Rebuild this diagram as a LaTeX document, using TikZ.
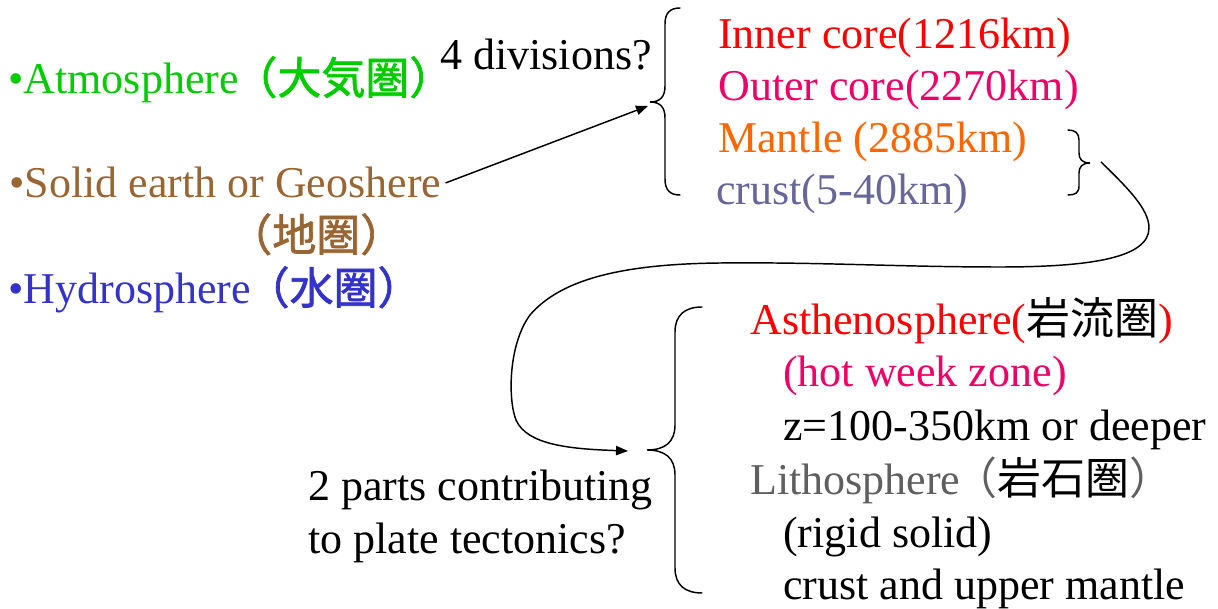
\documentclass[tikz,border=0pt]{standalone}
\usepackage{fontspec}
\setmainfont{Liberation Serif}
\newfontfamily\cjk{Noto Sans CJK JP}
\newfontfamily\cjkb{Noto Sans CJK JP}[FakeBold=1.6]
\usetikzlibrary{arrows.meta}
\definecolor{atmo}{HTML}{00CC00}
\definecolor{geo}{HTML}{996633}
\definecolor{hydro}{HTML}{3333CC}
\definecolor{innerc}{HTML}{FF0000}
\definecolor{outerc}{HTML}{F00066}
\definecolor{mantlec}{HTML}{FF6600}
\definecolor{crustc}{HTML}{666699}
\definecolor{lithoc}{HTML}{5F5F5F}
\tikzset{
  label/.style={inner sep=0pt, anchor=base west, font=\fontsize{33}{40}\selectfont},
  brace/.style={line width=1.1pt, line cap=round},
  link/.style={line width=1.1pt, -{Triangle[length=9pt,width=7pt]}},
}
\begin{document}
\begin{tikzpicture}[x=0.75pt,y=-0.75pt]
\useasboundingbox (0,0) rectangle (1218,609);

% spheres of the Earth system
\node[label, text=atmo] (atmo) at (8,94) {•Atmosphere\kern-4pt{\cjkb （大気圏）}};
\node[label, text=geo, inner sep=3pt] (solid) at (5,198) {•Solid earth or Geoshere};
\node[label, text=geo] (solidcjk) at (228,251) {\cjkb （地圏）};
\node[label, text=hydro] (hydro) at (8,304) {•Hydrosphere\kern-4pt{\cjkb （水圏）}};

% layers of the solid earth
\node[label] (q4) at (440,70) {4 divisions?};
\node[label, text=innerc] (inner) at (718,49) {Inner core(1216km)};
\node[label, text=outerc] (outer) at (718,101) {Outer core(2270km)};
\node[label, text=mantlec] (mantle) at (718,153) {Mantle (2885km)};
\node[label, text=crustc] (crust) at (716,205) {crust(5-40km)};

% plate tectonics
\node[label, text=innerc] (astheno) at (750,335) {Asthenosphere({\cjk\color{black}岩流圏})};
\node[label, text=outerc] (hot) at (783,387) {(hot week zone)};
\node[label] (depth) at (783,441) {z=100-350km or deeper};
\node[label, text=lithoc] (litho) at (750,494) {Lithosphere\kern-5pt{\cjk （{\color{black}岩石圏}）}};
\node[label] (rigid) at (783,547) {(rigid solid)};
\node[label] (upper) at (783,599) {crust and upper mantle};
\node[label] (q2a) at (308,501) {2 parts contributing};
\node[label] (q2b) at (308,553) {to plate tectonics?};

% brace tips and connector ends
\coordinate (b1tip) at (650,102);
\coordinate (b2tip) at (647,450);
\coordinate (loopstart) at (1101,162);
\coordinate (loopend) at (628,451);

\draw[brace] (680,8) .. controls (670,8) and (665,13) .. (665,24)
  -- (665,86) .. controls (665,97) and (660,102) .. (b1tip)
  .. controls (660,102) and (665,107) .. (665,118)
  -- (665,179) .. controls (665,190) and (670,195) .. (680,195);

\draw[brace] (1068,130) .. controls (1075,130) and (1079,133) .. (1079,140)
  -- (1079,153) .. controls (1079,159) and (1082,163) .. (1090,163)
  .. controls (1082,163) and (1079,167) .. (1079,173)
  -- (1079,186) .. controls (1079,193) and (1075,195) .. (1068,195);

\draw[brace] (702,307) .. controls (685,307) and (675,315) .. (675,332)
  -- (675,425) .. controls (675,442) and (665,450) .. (b2tip)
  .. controls (665,450) and (675,458) .. (675,475)
  -- (675,568) .. controls (675,585) and (685,593) .. (702,593);

% connectors
\draw[link] (solid.east) -- ([shift={(-2,4)}]b1tip);
\draw[link] (loopstart) .. controls (1130,190) and (1149,210) .. (1149,228)
  .. controls (1149,258) and (1090,267) .. (1000,267)
  .. controls (900,267) and (820,262) .. (720,263)
  .. controls (620,264) and (560,280) .. (530,315)
  .. controls (508,345) and (508,400) .. (516,420)
  .. controls (527,445) and (570,449) .. (loopend);
\end{tikzpicture}
\end{document}
